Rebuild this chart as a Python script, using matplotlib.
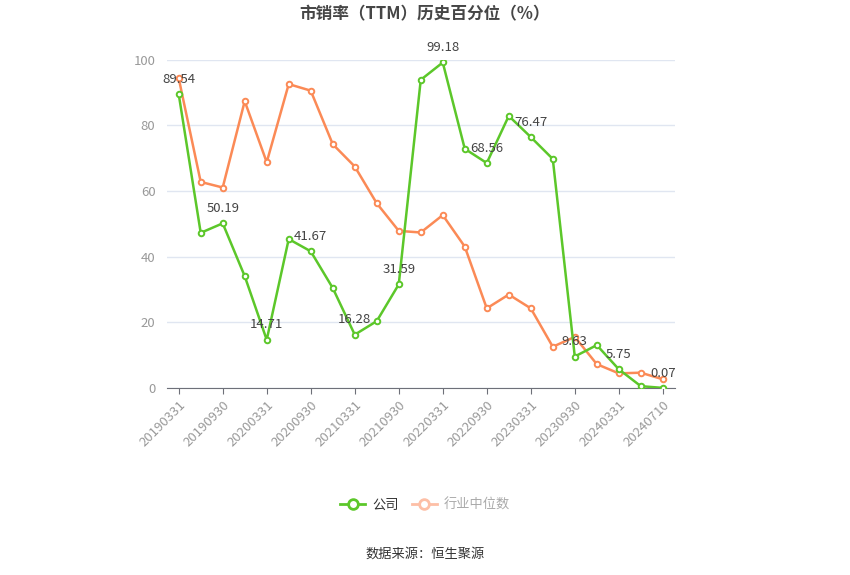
import matplotlib
matplotlib.use('Agg')
import matplotlib.pyplot as plt
from matplotlib.lines import Line2D

plt.rcParams['font.family'] = ['Noto Sans CJK SC', 'DejaVu Sans']

# 日期（季度）
fechas = ['20190331', '20190630', '20190930', '20191231', '20200331', '20200630',
          '20200930', '20201231', '20210331', '20210630', '20210930', '20211231',
          '20220331', '20220630', '20220930', '20221231', '20230331', '20230630',
          '20230930', '20231231', '20240331', '20240630', '20240710']

# 公司
empresa = [89.54, 47.3, 50.19, 34.1, 14.71, 45.4, 41.67, 30.5, 16.28, 20.4, 31.59, 93.9,
           99.18, 72.9, 68.56, 82.9, 76.47, 69.8, 9.63, 13.1, 5.75, 0.6, 0.07]

# 行业中位数
industria = [94.4, 62.8, 61.1, 87.4, 68.8, 92.6, 90.6, 74.3, 67.5, 56.3, 47.9, 47.4,
             52.7, 43.1, 24.3, 28.5, 24.3, 12.6, 15.6, 7.3, 4.5, 4.7, 2.7]

verde = '#5cc72a'
naranja = '#fb8a56'

fig = plt.figure(figsize=(8.5, 5.75), dpi=100)
ax = fig.add_axes([0.196, 0.325, 0.598, 0.571])

x = list(range(len(fechas)))
ax.plot(x, industria, color=naranja, lw=1.8, marker='o', ms=4,
        mfc='white', mec=naranja, mew=1.4, zorder=3)
ax.plot(x, empresa, color=verde, lw=1.8, marker='o', ms=4,
        mfc='white', mec=verde, mew=1.4, zorder=4)

# etiquetas cada dos puntos
for i in range(0, len(fechas), 2):
    ax.annotate(f'{empresa[i]:.2f}', (i, empresa[i]), xytext=(0, 6),
                textcoords='offset points', ha='center', va='bottom',
                fontsize=9.5, color='#444444', zorder=5)

ax.set_xlim(-0.55, len(fechas) - 0.45)
ax.set_ylim(0, 100)
ax.set_yticks([0, 20, 40, 60, 80, 100])
ax.set_xticks(x[::2])
ax.set_xticklabels(fechas[::2], rotation=45, ha='right', rotation_mode='anchor')
ax.tick_params(axis='x', colors='#999999', labelsize=9.5, length=4, color='#6e7079')
ax.tick_params(axis='y', colors='#999999', labelsize=9.5, length=0, pad=8)
ax.grid(axis='y', color='#e0e6f1', lw=1)
ax.set_axisbelow(True)
for lado in ['top', 'right', 'left']:
    ax.spines[lado].set_visible(False)
ax.spines['bottom'].set_color('#6e7079')

fig.text(0.5, 0.975, '市销率（TTM）历史百分位（%）', ha='center', va='center',
         fontsize=12, fontweight='bold', color='#464646')

handles = [Line2D([], [], color=verde, lw=2, marker='o', ms=7, mfc='white', mec=verde, mew=2),
           Line2D([], [], color='#fdbfa6', lw=2, marker='o', ms=7, mfc='white', mec='#fdbfa6', mew=2)]
leg = fig.legend(handles, ['公司', '行业中位数'], loc='center', bbox_to_anchor=(0.5, 0.121),
                 ncol=2, frameon=False, fontsize=9.5, handlelength=1.9, columnspacing=1.0,
                 handletextpad=0.5)
leg.get_texts()[0].set_color('#333333')
leg.get_texts()[1].set_color('#aaaaaa')

fig.text(0.5, 0.037, '数据来源：恒生聚源', ha='center', va='center', fontsize=9.5, color='#333333')

fig.savefig('out.png', dpi=100)
